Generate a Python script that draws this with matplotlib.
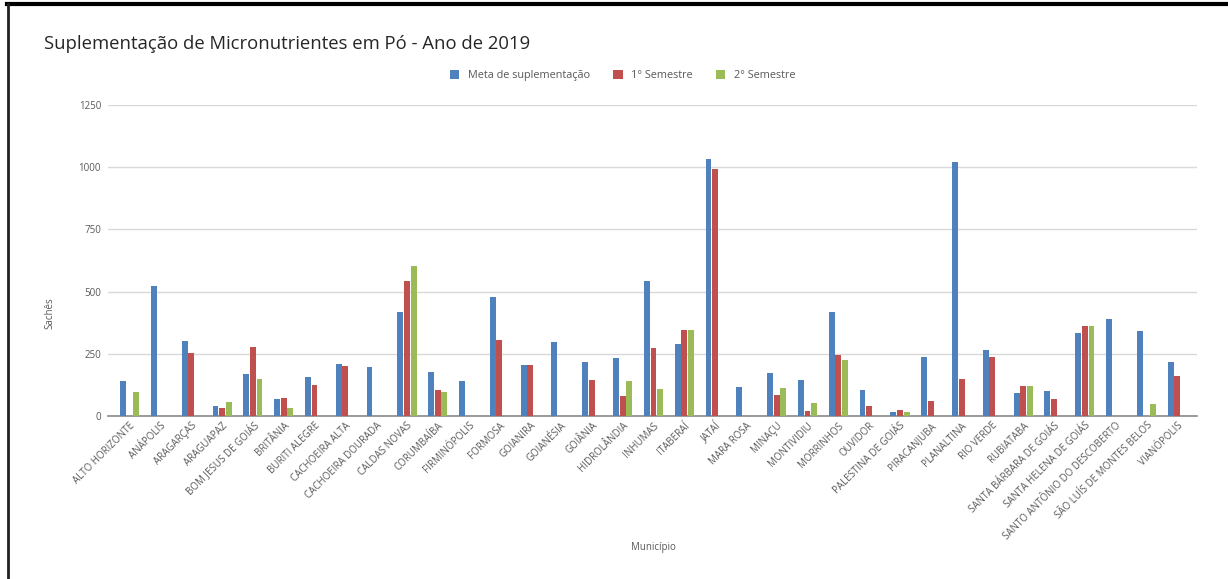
import numpy as np
import matplotlib
matplotlib.use("Agg")
import matplotlib.pyplot as plt
from matplotlib.lines import Line2D
from matplotlib.patches import Patch

plt.rcParams['font.family'] = ['Open Sans', 'DejaVu Sans']

municipios = [
    "ALTO HORIZONTE", "ANÁPOLIS", "ARAGARÇAS", "ARAGUAPAZ", "BOM JESUS DE GOIÁS",
    "BRITÂNIA", "BURITI ALEGRE", "CACHOEIRA ALTA", "CACHOEIRA DOURADA", "CALDAS NOVAS",
    "CORUMBAÍBA", "FIRMINÓPOLIS", "FORMOSA", "GOIANIRA", "GOIANÉSIA",
    "GOIÂNIA", "HIDROLÂNDIA", "INHUMAS", "ITABERAÍ", "JATAÍ",
    "MARA ROSA", "MINAÇU", "MONTIVIDIU", "MORRINHOS", "OUVIDOR",
    "PALESTINA DE GOIÁS", "PIRACANJUBA", "PLANALTINA", "RIO VERDE", "RUBIATABA",
    "SANTA BÁRBARA DE GOIÁS", "SANTA HELENA DE GOIÁS", "SANTO ANTÔNIO DO DESCOBERTO",
    "SÃO LUÍS DE MONTES BELOS", "VIANÓPOLIS",
]

meta = [141, 523, 303, 40, 169, 68, 158, 209, 197, 417,
        176, 141, 479, 206, 299, 216, 235, 544, 290, 1034,
        117, 172, 144, 417, 106, 16, 236, 1019, 267, 93,
        102, 333, 391, 341, 216]
sem1 = [0, 0, 255, 31, 276, 71, 123, 201, 0, 544,
        106, 0, 307, 206, 0, 145, 79, 272, 346, 992,
        0, 86, 20, 247, 41, 23, 60, 150, 237, 121,
        68, 361, 0, 0, 162]
sem2 = [95, 0, 0, 55, 148, 31, 0, 0, 0, 603,
        98, 0, 0, 0, 0, 0, 141, 110, 346, 0,
        0, 113, 54, 224, 0, 16, 0, 0, 0, 121,
        0, 361, 0, 48, 0]

c_meta = "#4F81BD"
c_sem1 = "#C0504D"
c_sem2 = "#9BBB59"
txt = "#595959"

fig = plt.figure(figsize=(12.28, 5.79), dpi=100)
ax = fig.add_axes([0.088, 0.2815, 0.887, 0.5372])

x = np.arange(len(municipios))
w = 0.19
step = 0.215
for vals, off, col in [(meta, -step, c_meta), (sem1, 0, c_sem1), (sem2, step, c_sem2)]:
    v = np.array(vals, dtype=float)
    m = v > 0
    ax.bar(x[m] + off, v[m], width=w, color=col, zorder=3)

ax.set_ylim(0, 1250)
ax.set_xlim(-0.7, 34.65)
ax.set_yticks([0, 250, 500, 750, 1000, 1250])
ax.yaxis.grid(True, color="#D9D9D9", linewidth=1, zorder=0)
ax.set_axisbelow(True)
for s in ["top", "right", "left"]:
    ax.spines[s].set_visible(False)
ax.spines["bottom"].set_color("#898989")
ax.spines["bottom"].set_linewidth(1.2)
ax.tick_params(axis="y", length=0, labelsize=7, labelcolor=txt, pad=5)
ax.tick_params(axis="x", length=0, pad=3)
ax.set_xticks(x)
ax.set_xticklabels(municipios, rotation=45, ha="right", rotation_mode="anchor",
                   fontsize=7, color=txt)

fig.text(0.041, 0.459, "Sachês", fontsize=7, color=txt, rotation=90,
         ha="center", va="center")
fig.text(0.532, 0.054, "Município", fontsize=7, color=txt, ha="center", va="center")

fig.text(0.036, 0.924, "Suplementação de Micronutrientes em Pó - Ano de 2019",
         fontsize=13.3, color="#262626", ha="left", va="center")

handles = [Patch(facecolor=c_meta, label="Meta de suplementação"),
           Patch(facecolor=c_sem1, label="1° Semestre"),
           Patch(facecolor=c_sem2, label="2° Semestre")]
leg = fig.legend(handles=handles, loc="center", bbox_to_anchor=(0.507, 0.869), ncol=3,
                 frameon=False, fontsize=7.8, handlelength=0.9, handleheight=0.9,
                 columnspacing=2.1, handletextpad=0.8)
for t in leg.get_texts():
    t.set_color(txt)

# frame around the figure (top and left edges)
fig.add_artist(Line2D([0.0055, 1.0], [0.9925, 0.9925], color="black", linewidth=3,
                      transform=fig.transFigure))
fig.add_artist(Line2D([0.0065, 0.0065], [0.0, 0.993], color="#222222", linewidth=2,
                      transform=fig.transFigure))

fig.savefig("out.png", dpi=100)
